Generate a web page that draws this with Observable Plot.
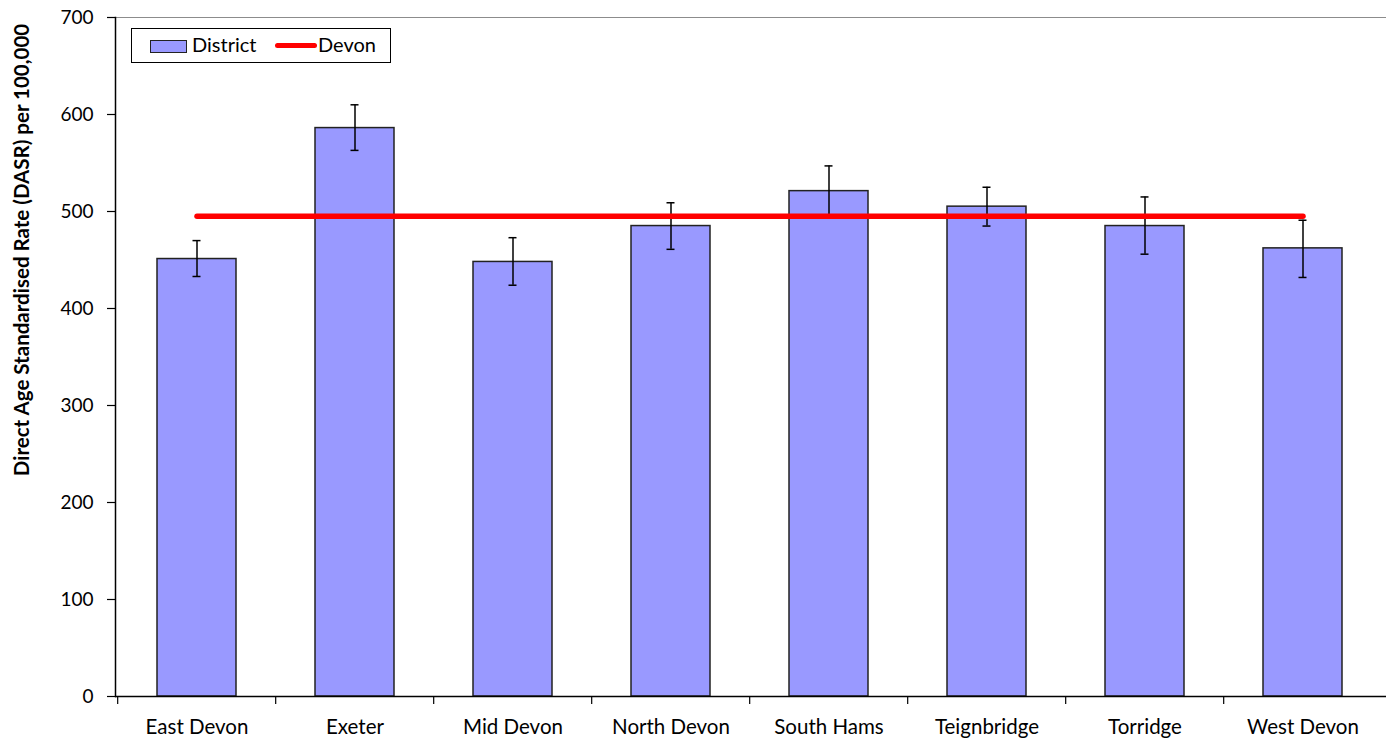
<!DOCTYPE html>
<html>
<head>
<meta charset="utf-8">
<script src="https://cdn.jsdelivr.net/npm/d3@7"></script>
<script src="https://cdn.jsdelivr.net/npm/@observablehq/plot@0.6"></script>
<style>
  body { margin: 0; background: #fff; }
  #wrap { position: relative; width: 1386px; height: 743px; font-family: Lato, "Open Sans", sans-serif; }
  #legend { position: absolute; left: 131px; top: 28px; width: 258px; height: 33px; border: 1px solid #000; background: #fff; font-size: 20px; color: #000; }
  #legend .sw { position: absolute; left: 18px; top: 11px; width: 35px; height: 11px; background: #9999ff; border: 1px solid #222; }
  #legend .ln { position: absolute; left: 143px; top: 14px; width: 42px; height: 5px; background: #ff0000; border-radius: 3px; }
  #legend .t1 { position: absolute; left: 60px; top: 3px; }
  #legend .t2 { position: absolute; left: 186px; top: 3px; }
</style>
</head>
<body>
<div id="wrap"><div id="chart"></div>
<div id="legend"><div class="sw"></div><span class="t1">District</span><div class="ln"></div><span class="t2">Devon</span></div>
</div>
<script>
const districts = ["East Devon", "Exeter", "Mid Devon", "North Devon", "South Hams", "Teignbridge", "Torridge", "West Devon"];
const dasr = [451, 586, 448, 485, 521, 505, 485, 462];
const lower = [433, 563, 424, 461, 495, 485, 456, 432];
const upper = [470, 610, 473, 509, 547, 525, 515, 491];
const devonRate = [495, 495, 495, 495, 495, 495, 495, 495];
const yTicks = [0, 100, 200, 300, 400, 500, 600, 700];
const yLabel = "Direct Age Standardised Rate (DASR) per 100,000";

const data = districts.map((d, i) => ({district: d, value: dasr[i], lo: lower[i], hi: upper[i], devon: devonRate[i]}));

const W = 1386, H = 743, ML = 115, MR = 2;
const step = (W - ML - MR) / districts.length;

const chart = Plot.plot({
  width: W, height: H,
  marginLeft: ML, marginRight: MR, marginTop: 17, marginBottom: 47,
  style: {fontFamily: "Lato, 'Open Sans', sans-serif", fontSize: "20px", color: "#000", background: "#fff"},
  x: {domain: districts, paddingInner: 0.5, paddingOuter: 0.25, label: null},
  y: {domain: [0, 700], label: null},
  marks: [
    Plot.ruleY([700], {stroke: "#8c8c8c", strokeWidth: 1, insetRight: -2}),
    Plot.barY(data, {x: "district", y: "value", fill: "#9999ff", stroke: "#222", strokeWidth: 1.5}),
    Plot.ruleX(data, {x: "district", y1: "lo", y2: "hi", stroke: "#000", strokeWidth: 1.5}),
    Plot.tickY(data, {x: "district", y: "lo", stroke: "#000", strokeWidth: 1.5, insetLeft: 35.5, insetRight: 35.5}),
    Plot.tickY(data, {x: "district", y: "hi", stroke: "#000", strokeWidth: 1.5, insetLeft: 35.5, insetRight: 35.5}),
    Plot.lineY(data, {x: "district", y: "devon", stroke: "#ff0000", strokeWidth: 5.5, strokeLinecap: "round"}),
    Plot.ruleY([0], {stroke: "#000", strokeWidth: 1.5, insetRight: -2}),
    Plot.frame({anchor: "left", stroke: "#000", strokeWidth: 1.5}),
    Plot.ruleX(districts, {x: d => d, dx: -step / 2, y1: 0, y2: 0, insetTop: 8, stroke: "#000", strokeWidth: 1.2}),
    Plot.axisY({ticks: yTicks, tickSize: 8, tickPadding: 14, label: null, tickFormat: d => String(d), fontSize: 19, strokeWidth: 1.2}),
    Plot.axisX({tickSize: 0, tickPadding: 23, label: null, fontSize: 20.5})
  ]
});

document.getElementById("chart").appendChild(chart);
d3.select(chart).append("text")
  .attr("transform", "translate(29,250) rotate(-90)")
  .attr("text-anchor", "middle")
  .attr("font-weight", "bold")
  .attr("font-size", "20.5px")
  .attr("fill", "#000")
  .text(yLabel);
</script>
</body>
</html>
